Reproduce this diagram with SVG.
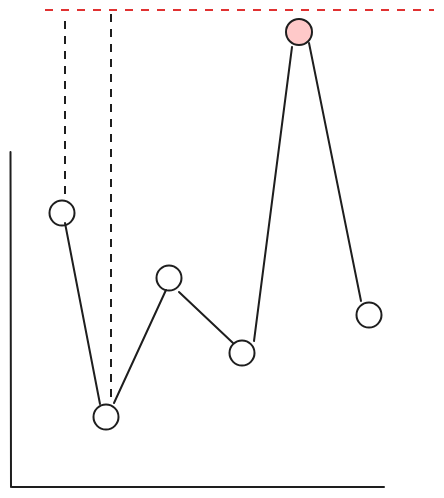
<svg xmlns="http://www.w3.org/2000/svg" width="444" height="498" viewBox="0 0 444 498">
<style>
.n{fill:none;stroke:#1e1e1e;stroke-width:2}
.e{fill:none;stroke:#1e1e1e;stroke-width:2;stroke-linecap:round}
.d{fill:none;stroke:#1e1e1e;stroke-width:2;stroke-dasharray:8 7}
.r{fill:none;stroke:#e03131;stroke-width:2;stroke-dasharray:8 8}
</style>
<rect width="444" height="498" fill="#ffffff"/>
<g id="guides">
<line class="r" x1="45" y1="10" x2="434" y2="10"/>
<line class="d" x1="65" y1="21" x2="65" y2="194"/>
<line class="d" x1="111" y1="14" x2="111" y2="402"/>
</g>
<g id="axes">
<line class="e" x1="10.5" y1="152" x2="11" y2="487"/>
<line class="e" x1="12" y1="487" x2="384" y2="487"/>
</g>
<g id="connectors">
<line class="e" x1="65" y1="223" x2="100" y2="404" stroke-width="2.6"/>
<line class="e" x1="114" y1="403" x2="166" y2="290"/>
<line class="e" x1="179" y1="292" x2="233" y2="343"/>
<line class="e" x1="254" y1="341" x2="292" y2="47"/>
<line class="e" x1="309" y1="43" x2="361" y2="301"/>
</g>
<g id="p1"><circle class="n" cx="62" cy="213" r="12.5" fill="#fff"/></g>
<g id="p2"><circle class="n" cx="106" cy="417" r="12.5" fill="#fff"/></g>
<g id="p3"><circle class="n" cx="169" cy="278" r="12.5" fill="#fff"/></g>
<g id="p4"><circle class="n" cx="242" cy="353" r="12.5" fill="#fff"/></g>
<g id="p5"><circle class="n" cx="299" cy="32" r="13" style="fill:#ffc9c9"/></g>
<g id="p6"><circle class="n" cx="369" cy="315" r="12.5" fill="#fff"/></g>
</svg>
